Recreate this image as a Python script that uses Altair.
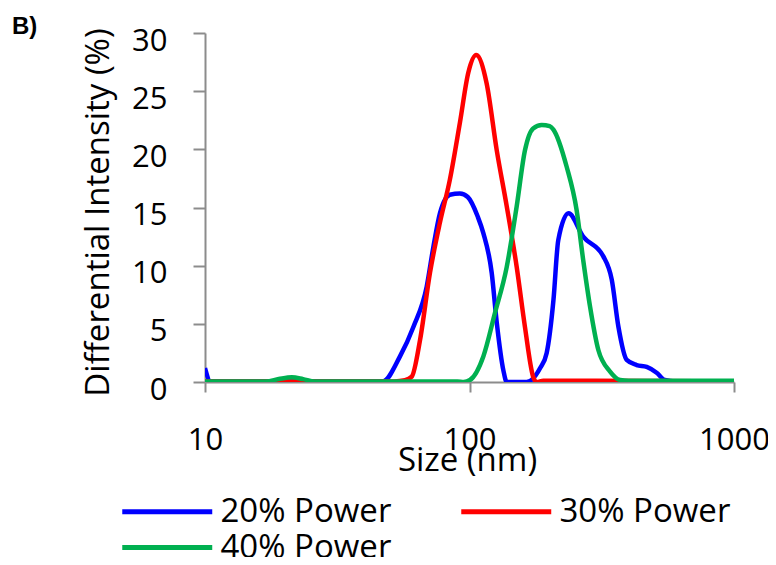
import altair as alt
import pandas as pd

# ---- data ----
series_names = ["20% Power", "30% Power", "40% Power"]
series_colors = ["#0000FF", "#FF0000", "#00B050"]

blue_x = [10, 10.5, 30, 47, 54.6, 61.4, 68.9, 73, 77.3, 84.3, 92, 98.5, 107.5, 112.8, 121.3, 126.8,
          134.3, 138.3, 164.4, 185, 195.8, 207.6, 216.6, 236.8, 269, 320.6, 345, 365.6, 393,
          428.5, 467.7, 510, 548, 600, 1000]
blue_y = [1.2, 0.05, 0.05, 0.05, 2.2, 4.75, 8.2, 11.6, 14.5, 16.1, 16.2, 15.9, 14.2, 12.8, 9.4, 5.1,
          1.0, 0.0, 0.0, 1.2, 2.5, 7.0, 12.2, 14.5, 12.5, 10.8, 8.8, 4.75, 1.9,
          1.46, 1.3, 0.8, 0.17, 0.05, 0.05]

red_x = [10, 30, 52, 57, 60.5, 65, 70.9, 77.3, 84.3, 92, 99, 106, 116, 126.8, 138.3, 150.8,
         162, 174, 179.5, 190, 300, 1000]
red_y = [0.05, 0.05, 0.05, 0.15, 0.46, 3.6, 9.4, 13.7, 17.4, 22.3, 26.6, 28.1, 25.7, 19.9, 15.1, 9.9,
         4.75, 0.46, 0.0, 0.1, 0.1, 0.05]

green_x = [10, 17, 19, 21.3, 23.5, 26, 60, 90, 95, 100.4, 112.8, 124.7, 138.3, 150.8, 162, 174,
           187.5, 201, 207.6, 233, 254, 269, 285.5, 307, 340, 371, 400, 1000]
green_y = [0.05, 0.05, 0.25, 0.4, 0.25, 0.05, 0.05, 0.05, 0.0, 0.17, 2.2, 5.9, 9.9, 15.1, 19.9, 21.8,
           22.1, 22.0, 21.7, 18.5, 14.8, 10.5, 6.5, 2.75, 0.9, 0.17, 0.1, 0.1]

x_ticks = [10, 100, 1000]
y_ticks = [0, 5, 10, 15, 20, 25, 30]
panel_label = ["B)"]

rows = []
for name, xs, ys, order in [(series_names[0], blue_x, blue_y, 0),
                            (series_names[1], red_x, red_y, 1),
                            (series_names[2], green_x, green_y, 2)]:
    for xv, yv in zip(xs, ys):
        rows.append({"size": xv, "intensity": yv, "series": name, "order": order})
df = pd.DataFrame(rows)

FONT = "Open Sans"
AXC = "#8c8c8c"

lines = alt.Chart(df).mark_line(strokeWidth=4.5, interpolate="monotone", clip=True).encode(
    x=alt.X("size:Q",
            scale=alt.Scale(type="log", domain=[10, 1000]),
            axis=alt.Axis(values=x_ticks, format="d", title="Size (nm)", grid=False,
                          tickSize=10, tickWidth=2, domainWidth=2,
                          domainColor=AXC, tickColor=AXC,
                          labelFont=FONT, labelFontSize=31, labelColor="black",
                          labelPadding=33, labelFlush=False, labelOverlap=False,
                          titleFont=FONT, titleFontSize=33, titleFontWeight="normal",
                          titleColor="black", titleX=262, titleY=88,
                          titleBaseline="alphabetic")),
    y=alt.Y("intensity:Q",
            scale=alt.Scale(domain=[0, 30], nice=False),
            axis=alt.Axis(values=y_ticks, title="Differential Intensity (%)", grid=False,
                          tickSize=12, tickWidth=2, domainWidth=2,
                          domainColor=AXC, tickColor=AXC,
                          labelFont=FONT, labelFontSize=31, labelColor="black",
                          labelPadding=26, labelOffset=8, labelFlush=False,
                          titleFont=FONT, titleFontSize=33, titleFontWeight="normal",
                          titleColor="black", titleAngle=270, titleX=-97, titleY=179,
                          titleAlign="center", titleBaseline="alphabetic")),
    color=alt.Color("series:N",
                    scale=alt.Scale(domain=series_names, range=series_colors),
                    legend=alt.Legend(orient="none", legendX=-83, legendY=462, columns=2,
                                      direction="horizontal",
                                      title=None, symbolType="M-4,0H4", symbolSize=506,
                                      symbolOffset=28.75,
                                      symbolStrokeWidth=5, labelFont=FONT, labelFontSize=33,
                                      labelColor="black", labelOffset=36.75, columnPadding=59,
                                      rowPadding=2, padding=0, labelLimit=400)),
    order=alt.Order("order:Q"),
    detail="series:N",
)

label = alt.Chart(pd.DataFrame({"t": panel_label})).mark_text(
    font="Liberation Sans", fontWeight="bold", fontSize=24, align="left",
    baseline="alphabetic", color="black"
).encode(text="t:N", x=alt.value(-193), y=alt.value(1))

chart = alt.layer(lines, label).properties(
    width=529, height=349,
    autosize=alt.AutoSizeParams(type="none"),
    padding={"left": 197, "top": 25, "right": 34, "bottom": 175},
).configure_view(stroke=None)

chart.save("out.html", embed_options={"renderer": "svg", "actions": False})
